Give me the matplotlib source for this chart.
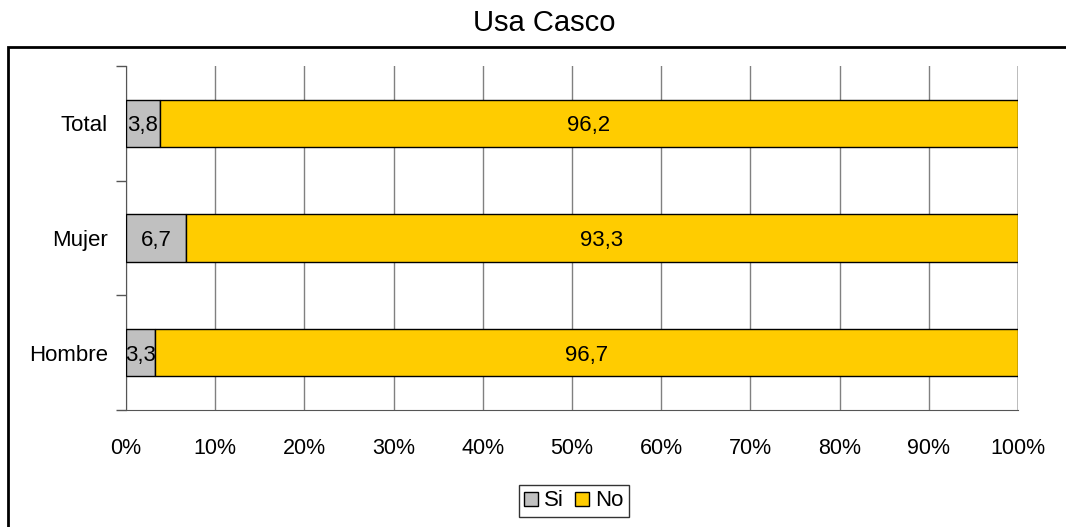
import matplotlib.pyplot as plt
from matplotlib.patches import Rectangle

plt.rcParams['font.family'] = ['Liberation Sans', 'DejaVu Sans']

categorias = ['Hombre', 'Mujer', 'Total']
si = [3.3, 6.7, 3.8]
no = [96.7, 93.3, 96.2]
etiquetas_si = ['3,3', '6,7', '3,8']
etiquetas_no = ['96,7', '93,3', '96,2']
ticks_x = [0, 10, 20, 30, 40, 50, 60, 70, 80, 90, 100]

fig = plt.figure(figsize=(10.66, 5.27), dpi=100)
ax = fig.add_axes([126/1066, 1 - 410/527, (1018 - 126)/1066, (410 - 66)/527])

# marco exterior (cortado a la derecha y abajo)
fig.patches.append(Rectangle((8/1066, -0.1), 1.2, 0.1 + 1 - 47/527, transform=fig.transFigure,
                             fill=False, edgecolor='black', linewidth=2, zorder=0))

y = range(len(categorias))
alto = 0.41
ax.barh(y, si, height=alto, color='#C0C0C0', edgecolor='black', linewidth=1, label='Si', zorder=3)
ax.barh(y, no, left=si, height=alto, color='#FFCC00', edgecolor='black', linewidth=1, label='No', zorder=3)

for i in y:
    ax.text(si[i] / 2, i, etiquetas_si[i], ha='center', va='center_baseline', fontsize=16, zorder=4)
    ax.text(si[i] + no[i] / 2, i, etiquetas_no[i], ha='center', va='center_baseline', fontsize=16, zorder=4)

ax.set_xlim(0, 100)
ax.set_ylim(-0.5, 2.5)
ax.set_xticks(ticks_x)
ax.set_xticklabels([f'{t}%' for t in ticks_x], fontsize=15.5)
ax.tick_params(axis='x', length=0, pad=20)
ax.set_yticks(list(y))
ax.set_yticklabels(categorias, fontsize=16)
ax.tick_params(axis='y', length=0, pad=13)
ax.set_yticks([-0.5, 0.5, 1.5, 2.5], minor=True)
ax.tick_params(axis='y', which='minor', length=7, color='#555555', width=1)

ax.grid(axis='x', color='#808080', linewidth=1, zorder=0)
for s in ['top', 'right']:
    ax.spines[s].set_visible(False)
ax.spines['left'].set_color('#555555')
ax.spines['bottom'].set_color('#555555')
ax.axvline(100, color='black', linewidth=1, zorder=1)

fig.text(544/1066, 1 - 23/527, 'Usa Casco', ha='center', va='center', fontsize=21)

leg = fig.legend(loc='center', bbox_to_anchor=(574/1066, 1 - 501/527), ncol=2, fontsize=16,
                 frameon=True, fancybox=False, edgecolor='black', handlelength=0.6, handleheight=0.6,
                 handletextpad=0.3, columnspacing=0.5, borderpad=0.25, borderaxespad=0)
leg.get_frame().set_linewidth(1)

fig.savefig('out.png', dpi=100)
